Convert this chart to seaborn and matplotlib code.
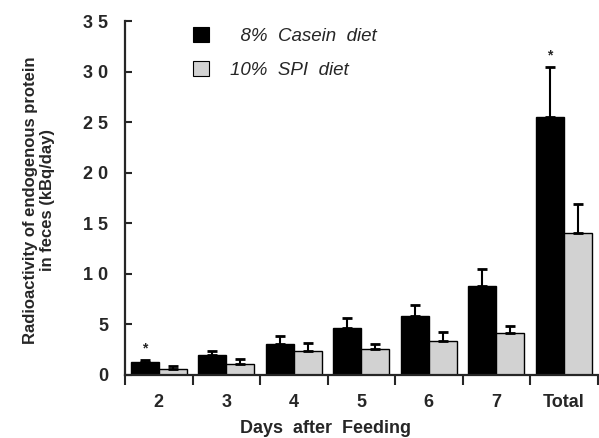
import matplotlib
matplotlib.use('Agg')
import matplotlib.pyplot as plt
import seaborn as sns
import pandas as pd

days = ['2', '3', '4', '5', '6', '7', 'Total']
series = ['8% Casein diet', '10% SPI diet']
casein = [1.25, 2.0, 3.1, 4.6, 5.8, 8.8, 25.5]
casein_err = [0.2, 0.4, 0.75, 1.0, 1.1, 1.65, 4.95]
spi = [0.63, 1.05, 2.4, 2.55, 3.4, 4.1, 14.0]
spi_err = [0.23, 0.55, 0.8, 0.55, 0.8, 0.7, 2.9]
casein_sig = [True, False, False, False, False, False, True]
ytick_vals = [0, 5, 10, 15, 20, 25, 30, 35]
ytick_labels = ['0', '5', '1 0', '1 5', '2 0', '2 5', '3 0', '3 5']

sns.set_style('ticks')
plt.rcParams['font.family'] = ['Liberation Sans', 'DejaVu Sans']

df = pd.DataFrame({
    'day': days * 2,
    'value': casein + spi,
    'diet': [series[0]] * len(days) + [series[1]] * len(days),
})

fig = plt.figure(figsize=(5.99, 4.38), dpi=100)
ax = fig.add_axes([0.2087, 0.144, 0.789, 0.808])

sns.barplot(data=df, x='day', y='value', hue='diet', order=days, hue_order=series,
            palette=['black', '#d2d2d2'], saturation=1, edgecolor='black',
            linewidth=1.0, width=0.83, errorbar=None, ax=ax)

errs = [casein_err, spi_err]
for cont, err in zip(ax.containers, errs):
    xs = [b.get_x() + b.get_width() / 2 for b in cont]
    ys = [b.get_height() for b in cont]
    ax.errorbar(xs, ys, yerr=[[0] * len(err), err], fmt='none', ecolor='black',
                elinewidth=1.5, capsize=3.5, capthick=2.0, zorder=1)

for b, e, s in zip(ax.containers[0], casein_err, casein_sig):
    if s:
        ax.text(b.get_x() + b.get_width() / 2, b.get_height() + e + 0.5, '*',
                ha='center', va='bottom', fontsize=10, fontweight='bold')

ax.set_xlim(-0.5, len(days) - 0.5)
ax.set_ylim(0, 35)
ax.set_yticks(ytick_vals)
ax.set_yticklabels(ytick_labels, fontsize=13, fontweight='bold')
ax.set_xticks(range(len(days)))
ax.set_xticklabels(days, fontsize=13, fontweight='bold')
ax.set_xticks([i - 0.5 for i in range(len(days) + 1)], minor=True)
ax.tick_params(axis='x', which='major', length=0, pad=14)
ax.tick_params(axis='x', which='minor', length=7, width=1.5, direction='out')
ax.tick_params(axis='y', length=5, width=1.5, direction='in', pad=12)

sns.despine(ax=ax)
for sp in ['left', 'bottom']:
    ax.spines[sp].set_linewidth(1.6)

ax.set_xlabel('Days  after  Feeding', fontsize=13, fontweight='bold')
ax.xaxis.set_label_coords(0.425, -0.128)
ax.set_ylabel('Radioactivity of endogenous protein\nin feces (kBq/day)',
              fontsize=12, fontweight='bold', family=['Liberation Sans Narrow', 'Liberation Sans'],
              linespacing=1.2)
ax.yaxis.set_label_coords(-0.148, 0.494)

leg = ax.legend(labels=['  8%  Casein  diet', '10%  SPI  diet'],
                loc='upper left', bbox_to_anchor=(0.109, 1.03), frameon=False,
                handlelength=0.85, handleheight=0.85, handletextpad=1.1,
                labelspacing=0.85, prop={'size': 13.5, 'style': 'italic'})
for h in leg.legend_handles:
    h.set_edgecolor('black')
    h.set_linewidth(0.8)

fig.savefig('out.png', dpi=100)
